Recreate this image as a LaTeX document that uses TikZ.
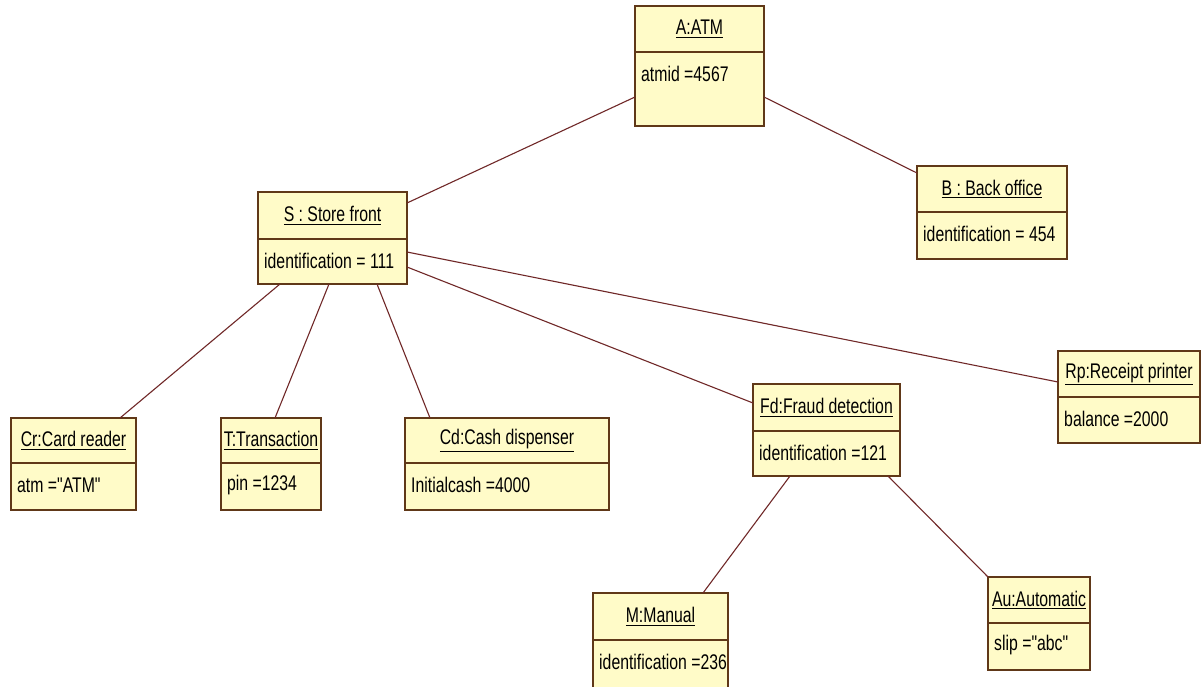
\documentclass[tikz,border=0pt]{standalone}
\usepackage{fontspec}
\setmainfont{Liberation Sans}[Ligatures=TeXOff]
\usepackage{graphicx}
\definecolor{objfill}{RGB}{255,251,200}
\definecolor{objdraw}{RGB}{96,56,24}
\definecolor{linkc}{RGB}{112,40,40}
\tikzset{
 objbox/.style={draw=objdraw, fill=objfill, line width=1.4pt, inner sep=0pt, outer sep=0pt, rectangle},
 divider/.style={draw=objdraw, line width=1.4pt},
 link/.style={draw=linkc, line width=1.1pt},
 objtext/.style={inner sep=0pt, font=\fontsize{15.8}{18}\selectfont, text=black},
}
\newcommand\tallt[1]{\scalebox{1}[1.34]{#1}}
\newcommand\umlobj[8]{%
 \node[objbox, anchor=north west, minimum width={(#4-#2)*1pt}, minimum height={(#6-#3)*1pt}] (#1) at (#2,-#3) {};
 \draw[divider] (#2,-#5) -- (#4,-#5);
 \node[objtext] (#1-name) at ({(#2+#4)/2},{-(#3+#5)/2}) {\tallt{\underline{#7}}};
 \node[objtext, anchor=west] (#1-attr) at ({#2+6},{-(#5+22)}) {\tallt{#8}};
}
\begin{document}
\begin{tikzpicture}[x=1pt,y=1pt]
\useasboundingbox (0,0) rectangle (1204,-686);
\clip (0,0) rectangle (1204,-686);
\fill[white] (0,0) rectangle (1204,-686);
\umlobj{A}{635}{6}{764}{52}{126}{A:ATM}{atmid =4567}
\umlobj{S}{258}{192}{407}{239}{284}{S : Store front}{identification = 111}
\umlobj{B}{917}{166}{1067}{212}{259}{B : Back office}{identification = 454}
\umlobj{Cr}{11}{418}{136}{463}{510}{Cr:Card reader}{atm ="ATM"}
\umlobj{T}{221}{418}{321}{463}{510}{T:Transaction}{pin =1234}
\umlobj{Cd}{405}{418}{609}{463}{510}{Cd:Cash dispenser}{Initialcash =4000}
\umlobj{Fd}{753}{384}{900}{431}{476}{Fd:Fraud detection}{identification =121}
\umlobj{Rp}{1058}{351}{1200}{397}{443}{Rp:Receipt printer}{balance =2000}
\umlobj{M}{593}{593}{728}{640}{700}{M:Manual}{identification =236}
\umlobj{Au}{988}{577}{1090}{623}{670}{Au:Automatic}{slip ="abc"}
\draw[link] ([yshift=-31pt]A.west) -- ([yshift=-11pt]S.north east);
\draw[link] ([yshift=-31pt]A.east) -- ([yshift=-7pt]B.north west);
\draw[link] ([xshift=22pt]S.south west) -- ([xshift=109pt]Cr.north west);
\draw[link] ([xshift=71pt]S.south west) -- ([xshift=54pt]T.north west);
\draw[link] ([xshift=119pt]S.south west) -- ([xshift=25pt]Cd.north west);
\draw[link] ([yshift=-60pt]S.north east) -- ([yshift=-31pt]Rp.north west);
\draw[link] ([yshift=-75pt]S.north east) -- ([yshift=-19pt]Fd.north west);
\draw[link] ([xshift=37pt]Fd.south west) -- ([xshift=110pt]M.north west);
\draw[link] ([xshift=135pt]Fd.south west) -- (Au.north west);
\end{tikzpicture}
\end{document}
